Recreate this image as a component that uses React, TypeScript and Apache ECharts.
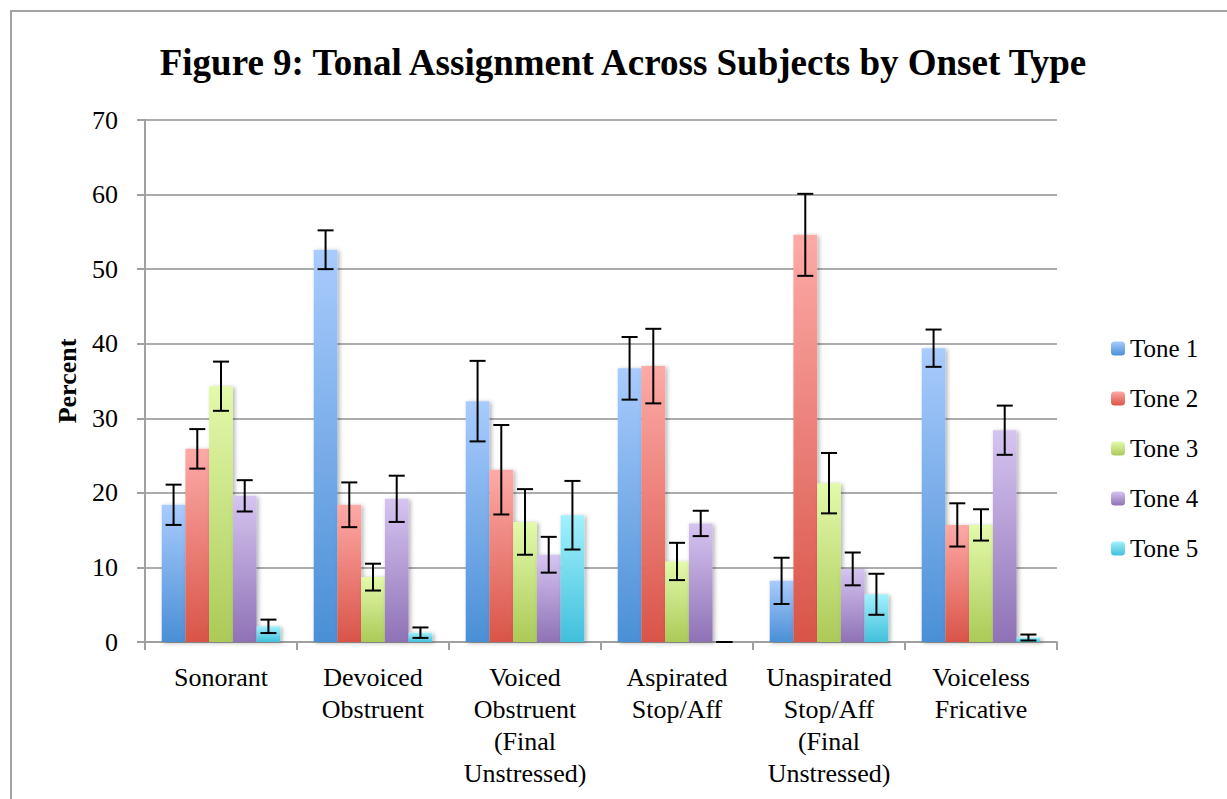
import React, { useEffect, useRef } from "react";
import * as echarts from "echarts";

const categories = [
  "Sonorant",
  "Devoiced\nObstruent",
  "Voiced\nObstruent\n(Final\nUnstressed)",
  "Aspirated\nStop/Aff",
  "Unaspirated\nStop/Aff\n(Final\nUnstressed)",
  "Voiceless\nFricative",
];
const seriesNames = ["Tone 1", "Tone 2", "Tone 3", "Tone 4", "Tone 5"];
const tone1 = [18.4, 52.6, 32.3, 36.7, 8.2, 39.4];
const tone2 = [25.9, 18.4, 23.1, 37.0, 54.6, 15.7];
const tone3 = [34.3, 8.7, 16.1, 10.8, 21.3, 15.7];
const tone4 = [19.6, 19.2, 11.7, 15.9, 9.8, 28.4];
const tone5 = [2.1, 1.25, 17.0, 0, 6.4, 0.6];
const err1 = [2.7, 2.6, 5.4, 4.2, 3.1, 2.5];
const err2 = [2.65, 3.0, 6.0, 5.0, 5.5, 2.9];
const err3 = [3.3, 1.8, 4.4, 2.5, 4.05, 2.1];
const err4 = [2.1, 3.1, 2.4, 1.7, 2.2, 3.3];
const err5 = [0.9, 0.7, 4.6, 0, 2.75, 0.4];
const yTicks = { min: 0, max: 70, interval: 10 };

const values = [tone1, tone2, tone3, tone4, tone5];
const errors = [err1, err2, err3, err4, err5];
const colorStops = [
  ["#a9cbfd", "#4a8fd6"],
  ["#fdaaa7", "#d95448"],
  ["#e3faab", "#abca58"],
  ["#d6c4f0", "#8f72b6"],
  ["#a2f1fc", "#41c0dc"],
];

const FONT = "Liberation Serif";
const CAT_GAP = 0.22;

export default function App() {
  const ref = useRef<HTMLDivElement>(null);
  useEffect(() => {
    if (!ref.current) return;
    const chart = echarts.init(ref.current, undefined, { renderer: "svg" });
    const barSeries = values.map((vals, i) => ({
      name: seriesNames[i],
      type: "bar",
      data: vals,
      barGap: "0%",
      barCategoryGap: CAT_GAP * 100 + "%",
      itemStyle: {
        color: new echarts.graphic.LinearGradient(0, 0, 0, 1, [
          { offset: 0, color: colorStops[i][0] },
          { offset: 1, color: colorStops[i][1] },
        ]),
        shadowBlur: 4,
        shadowColor: "rgba(0,0,0,0.3)",
        shadowOffsetX: 2,
        shadowOffsetY: 1,
      },
      z: 2,
    }));
    const errSeries = values.map((vals, i) => ({
      name: "err" + (i + 1),
      type: "custom",
      z: 5,
      encode: { x: 0, y: [1, 2] },
      data: vals.map((v, j) => [j, v - errors[i][j], v + errors[i][j]]),
      renderItem: (params: any, api: any) => {
        const idx = api.value(0);
        const lo = api.coord([idx, api.value(1)]);
        const hi = api.coord([idx, api.value(2)]);
        const band = api.size([1, 0])[0];
        const groupW = band * (1 - CAT_GAP);
        const barW = groupW / 5;
        const cx = lo[0] - groupW / 2 + barW * (i + 0.5);
        const half = 8;
        const style = { stroke: "#000", lineWidth: 2 };
        return {
          type: "group",
          children: [
            { type: "line", shape: { x1: cx, y1: hi[1], x2: cx, y2: lo[1] }, style },
            { type: "line", shape: { x1: cx - half, y1: hi[1], x2: cx + half, y2: hi[1] }, style },
            { type: "line", shape: { x1: cx - half, y1: lo[1], x2: cx + half, y2: lo[1] }, style },
          ],
        };
      },
    }));
    chart.setOption({
      animation: false,
      backgroundColor: "#fff",
      textStyle: { fontFamily: FONT },
      graphic: [
        {
          type: "rect",
          shape: { x: 11, y: 11, width: 1400, height: 1000 },
          style: { fill: "none", stroke: "#a3a3a3", lineWidth: 2 },
          z: -1,
        },
        {
          type: "text",
          x: 623,
          y: 62,
          style: {
            text: "Figure 9: Tonal Assignment Across Subjects by Onset Type",
            fontFamily: FONT,
            fontSize: 37,
            fontWeight: "bold",
            fill: "#000",
            textAlign: "center",
            textVerticalAlign: "middle",
          },
        },
      ],
      legend: {
        data: seriesNames,
        orient: "vertical",
        left: 1106,
        top: 331,
        itemWidth: 14,
        itemHeight: 14,
        itemGap: 25,
        textStyle: { fontFamily: FONT, fontSize: 25, color: "#000", lineHeight: 25 },
        selectedMode: false,
      },
      grid: { left: 145, right: 170, top: 120, bottom: 157 },
      xAxis: {
        type: "category",
        data: categories,
        axisLine: { lineStyle: { color: "#a0a0a0", width: 2 } },
        axisTick: { show: true, alignWithLabel: false, length: 8, lineStyle: { color: "#a0a0a0", width: 2 } },
        axisLabel: {
          interval: 0,
          fontFamily: FONT,
          fontSize: 26,
          lineHeight: 32,
          color: "#000",
          margin: 19,
        },
      },
      yAxis: {
        type: "value",
        min: yTicks.min,
        max: yTicks.max,
        interval: yTicks.interval,
        name: "Percent",
        nameLocation: "middle",
        nameRotate: 90,
        nameGap: 65,
        nameTextStyle: { fontFamily: FONT, fontSize: 26, fontWeight: "bold", color: "#000" },
        axisLine: { show: true, lineStyle: { color: "#a0a0a0", width: 2 } },
        axisTick: { show: true, length: 8, lineStyle: { color: "#a0a0a0", width: 2 } },
        axisLabel: { fontFamily: FONT, fontSize: 26, color: "#000", margin: 27 },
        splitLine: { lineStyle: { color: "#acacac", width: 2 } },
      },
      series: [...barSeries, ...errSeries],
    });
    return () => chart.dispose();
  }, []);
  return (
    <div
      ref={ref}
      style={{ position: "absolute", left: 0, top: 0, width: 1227, height: 799 }}
    />
  );
}
